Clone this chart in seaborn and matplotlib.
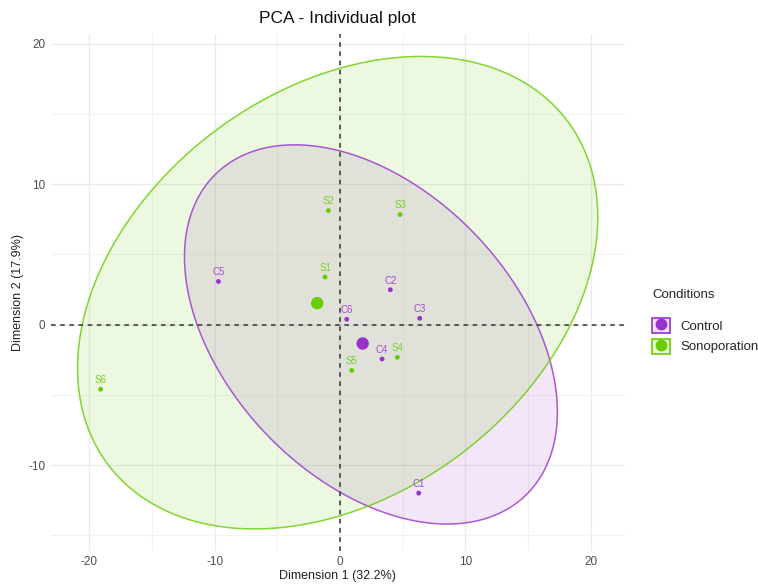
import numpy as np
import pandas as pd
import matplotlib
matplotlib.use("Agg")
import matplotlib.pyplot as plt
import seaborn as sns
from matplotlib.patches import Patch
from matplotlib.lines import Line2D
from matplotlib.legend_handler import HandlerTuple

# individual coordinates
names = ["C1", "C2", "C3", "C4", "C5", "C6", "S1", "S2", "S3", "S4", "S5", "S6"]
dim1 = [6.27, 4.01, 6.35, 3.35, -9.70, 0.53, -1.20, -0.93, 4.78, 4.57, 0.93, -19.10]
dim2 = [-12.00, 2.48, 0.45, -2.45, 3.07, 0.38, 3.39, 8.12, 7.84, -2.33, -3.26, -4.60]
conditions = ["Control"] * 6 + ["Sonoporation"] * 6
groups = ["Control", "Sonoporation"]
colors = {"Control": "#9932CC", "Sonoporation": "#66CD00"}

df = pd.DataFrame({"name": names, "Dim1": dim1, "Dim2": dim2, "Conditions": conditions})


def cov_trob(x, nu=5, maxit=25, tol=0.01):
    # port of MASS::cov.trob (multivariate t estimate)
    n, p = x.shape
    wt = np.ones(n)
    loc = x.mean(axis=0)
    w = np.sqrt(wt)
    for _ in range(maxit):
        w0 = w
        X = x - loc
        _, d, vt = np.linalg.svd(np.sqrt(w / w.sum())[:, None] * X, full_matrices=False)
        wX = X @ vt.T @ np.diag(1 / d)
        Q = (wX ** 2).sum(axis=1)
        w = wt * (nu + p) / (nu + Q)
        loc = (w[:, None] * x).sum(axis=0) / w.sum()
        if np.all(np.abs(w - w0) < tol):
            break
    cov = (np.sqrt(w)[:, None] * X).T @ (np.sqrt(w)[:, None] * X) / wt.sum()
    return cov, loc


def t_ellipse(x, y, level=0.95, n_seg=200):
    # same as ggplot2 stat_ellipse(type = "t")
    pts = np.column_stack([x, y])
    cov, center = cov_trob(pts)
    dfd = len(pts) - 1
    qf = dfd / 2 * ((1 - level) ** (-2 / dfd) - 1)  # F(2, d) quantile
    radius = np.sqrt(2 * qf)
    t = np.linspace(0, 2 * np.pi, n_seg)
    circle = np.column_stack([np.cos(t), np.sin(t)])
    chol = np.linalg.cholesky(cov).T
    return center + radius * circle @ chol


sns.set_theme(style="whitegrid")
plt.rcParams["font.family"] = ["Liberation Sans", "DejaVu Sans"]
plt.rcParams["axes.unicode_minus"] = False

fig = plt.figure(figsize=(7.58, 5.84), dpi=100)
ax = fig.add_axes([0.067, 0.057, 0.757, 0.885])

for g in groups:
    sub = df[df["Conditions"] == g]
    ell = t_ellipse(sub["Dim1"].values, sub["Dim2"].values)
    ax.fill(ell[:, 0], ell[:, 1], color=colors[g], alpha=0.12, lw=0, zorder=1)
    ax.plot(ell[:, 0], ell[:, 1], color=colors[g], lw=1.1, alpha=0.8, zorder=2)

ax.axhline(0, color="#333333", ls=(0, (3, 3)), lw=1.1, zorder=3)
ax.axvline(0, color="#333333", ls=(0, (3, 3)), lw=1.1, zorder=3)

sns.scatterplot(data=df, x="Dim1", y="Dim2", hue="Conditions", palette=colors,
                s=12, edgecolor="none", legend=False, ax=ax, zorder=4)

means = df.groupby("Conditions")[["Dim1", "Dim2"]].mean().reset_index()
sns.scatterplot(data=means, x="Dim1", y="Dim2", hue="Conditions", palette=colors,
                s=80, edgecolor="none", legend=False, ax=ax, zorder=5)

for _, r in df.iterrows():
    ax.annotate(r["name"], (r["Dim1"], r["Dim2"]), xytext=(0, 3), textcoords="offset points",
                ha="center", va="bottom", fontsize=7, color=colors[r["Conditions"]], alpha=0.85)

ax.set_xlim(-23.07, 22.69)
ax.set_ylim(-16.1, 20.7)
ax.set_xticks([-20, -10, 0, 10, 20])
ax.set_yticks([-10, 0, 10, 20])
ax.set_xticks([-15, -5, 5, 15], minor=True)
ax.set_yticks([-15, -5, 5, 15], minor=True)
ax.grid(which="major", color="#EBEBEB", lw=1.0)
ax.grid(which="minor", color="#F2F2F2", lw=0.8)
ax.tick_params(which="both", length=0, labelsize=8.5, colors="#4D4D4D", pad=4)
for s in ax.spines.values():
    s.set_visible(False)
ax.set_facecolor("white")

ax.set_xlabel("Dimension 1 (32.2%)", fontsize=9, color="#222222", labelpad=1)
ax.set_ylabel("Dimension 2 (17.9%)", fontsize=9, color="#222222", labelpad=3)
ax.set_title("PCA - Individual plot", fontsize=12.5, color="#111111", pad=8)

handles = []
for g in groups:
    box = Patch(facecolor=colors[g], alpha=0.15, edgecolor="none")
    edge = Patch(facecolor="none", edgecolor=colors[g], lw=1.2)
    dot = Line2D([], [], marker="o", ls="none", color=colors[g], markersize=7.5)
    handles.append((box, edge, dot))
leg = fig.legend(handles, groups, handler_map={tuple: HandlerTuple(ndivide=1, pad=0)},
                 title="Conditions", loc="upper left", bbox_to_anchor=(0.845, 0.525),
                 frameon=False, fontsize=9.5, title_fontsize=9.5, handlelength=1.35,
                 handleheight=1.35, labelspacing=0.45, handletextpad=0.8)
leg._legend_box.align = "left"
leg._legend_box.sep = 12

fig.savefig("out.png", dpi=100)
